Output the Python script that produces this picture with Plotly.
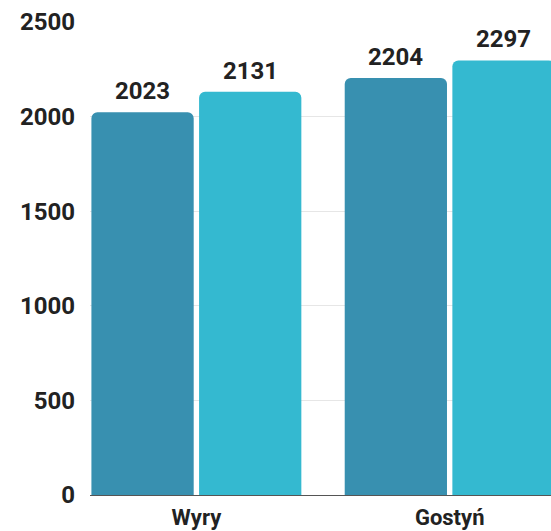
import plotly.graph_objects as go

categories = ["Wyry", "Gostyń"]
series_a = [2023, 2204]
series_b = [2131, 2297]
y_ticks = [0, 500, 1000, 1500, 2000, 2500]

dark = "#3890B0"
light = "#34B9D0"
txt = "#222222"
FONT = "Roboto"

fig = go.Figure()
fig.add_trace(go.Bar(x=categories, y=series_a, marker=dict(color=dark, cornerradius=6, line=dict(width=0)), name="A"))
fig.add_trace(go.Bar(x=categories, y=series_b, marker=dict(color=light, cornerradius=6, line=dict(width=0)), name="B"))

bargap = 0.15
x_range = [-0.42, 1.40]
plot_w = 461
cat_px = plot_w / (x_range[1] - x_range[0])
off = cat_px * (1 - bargap) / 4
annotations = []
for i, c in enumerate(categories):
    for vals, sh in ((series_a, -off), (series_b, off)):
        annotations.append(dict(x=c, y=vals[i], text=str(vals[i]), showarrow=False,
                                xshift=sh, yshift=5, yanchor="bottom",
                                font=dict(family=FONT, size=24, color=txt, weight="bold")))

fig.update_layout(
    width=551, height=531,
    margin=dict(l=90, r=0, t=22, b=36),
    paper_bgcolor="white", plot_bgcolor="white",
    barmode="group", bargap=bargap, bargroupgap=0.05,
    showlegend=False,
    annotations=annotations,
    xaxis=dict(range=x_range, showgrid=False, showline=False, zeroline=False,
               tickfont=dict(family=FONT, size=22, color=txt, weight="bold"),
               ticks="", ticklabelstandoff=7, automargin=False),
    yaxis=dict(range=[0, 2500], tickvals=y_ticks, showgrid=True, gridcolor="#E6E6E6", gridwidth=1,
               zeroline=True, zerolinecolor="#555555", zerolinewidth=1,
               tickfont=dict(family=FONT, size=24, color=txt, weight="bold"),
               ticks="", ticklabelstandoff=14, automargin=False),
)
fig.update_traces(cliponaxis=True)

fig.write_html("out.html", config={"displayModeBar": False},
               post_script="document.body.style.margin='0';document.body.style.overflow='hidden';")
